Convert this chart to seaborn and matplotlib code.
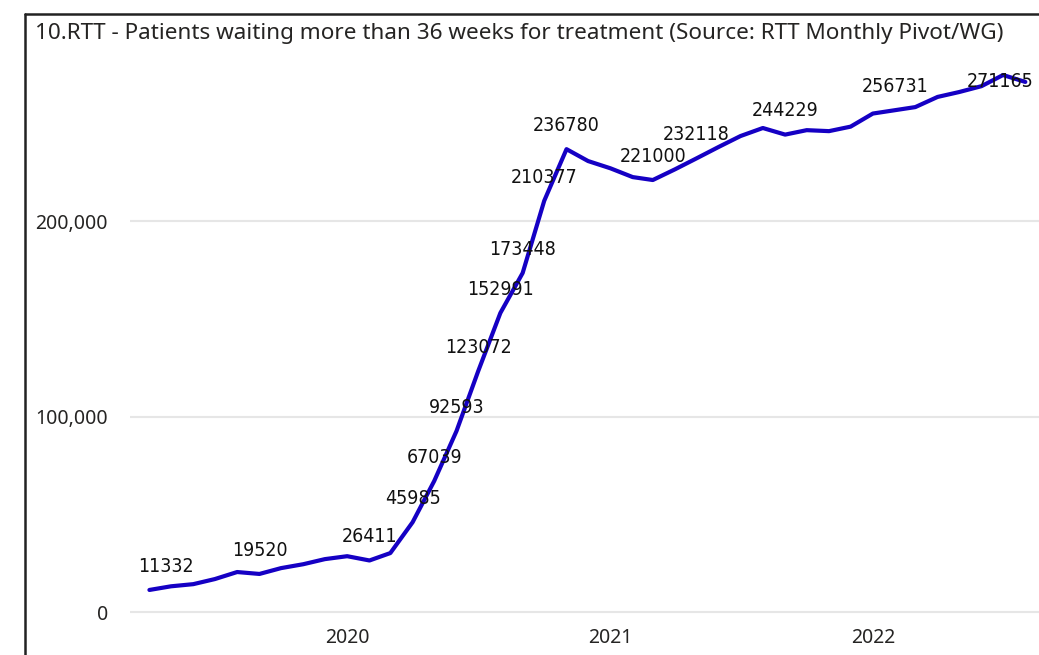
import pandas as pd
import matplotlib.pyplot as plt
import seaborn as sns
from matplotlib.lines import Line2D

# Monthly values, Apr 2019 - Aug 2022
months = pd.date_range('2019-04-01', '2022-08-01', freq='MS')
patients = [11332, 13200, 14300, 16900, 20500, 19520, 22500, 24500, 27100,
            28600, 26411, 30200, 45985, 67039, 92593, 123072, 152991, 173448,
            210377, 236780, 230700, 227000, 222500, 221000, 226500, 232118,
            238000, 243500, 247600, 244229, 246500, 246000, 248300, 255000,
            256731, 258300, 263500, 266000, 269000, 274700, 271165]

# months that carry a data label
label_months = ['2019-04-01', '2019-09-01', '2020-02-01', '2020-04-01',
                '2020-05-01', '2020-06-01', '2020-07-01', '2020-08-01',
                '2020-09-01', '2020-10-01', '2020-11-01', '2021-03-01',
                '2021-05-01', '2021-09-01', '2022-02-01', '2022-08-01']

year_ticks = ['2020-01-01', '2021-01-01', '2022-01-01']
year_labels = ['2020', '2021', '2022']
y_ticks = [0, 100000, 200000]
y_labels = ['0', '100,000', '200,000']

title = '10.RTT - Patients waiting more than 36 weeks for treatment (Source: RTT Monthly Pivot/WG)'

df = pd.DataFrame({'month': months, 'patients': patients})

sns.set_style('white')
plt.rcParams['font.family'] = ['Noto Sans', 'DejaVu Sans']

W, H = 1039, 655
fig = plt.figure(figsize=(W / 100, H / 100), dpi=100)
ax = fig.add_axes([130 / W, 1 - 617 / H, (W - 130) / W, (617 - 50) / H])

sns.lineplot(data=df, x='month', y='patients', ax=ax, color='#1500C4',
             linewidth=3, solid_joinstyle='round', solid_capstyle='round')

# data labels (first and last are nudged inwards to stay inside the plot)
lab_font = dict(fontsize=14, family='DejaVu Sans', stretch='condensed',
                color='#111111', ha='center', va='center')
for d in label_months:
    d = pd.Timestamp(d)
    v = df.loc[df['month'] == d, 'patients'].iloc[0]
    if d == df['month'].iloc[-1]:
        off = (-18, 0)
    elif d == df['month'].iloc[0]:
        off = (12, 17)
    else:
        off = (0, 17)
    ax.annotate(str(v), (d, v), xytext=off, textcoords='offset points',
                **lab_font)

ax.set_xlim(pd.Timestamp('2019-03-05'), pd.Timestamp('2022-08-20'))
ax.set_ylim(-2500, 287500)
ax.set_xticks(pd.to_datetime(year_ticks))
ax.set_xticklabels(year_labels)
ax.set_yticks(y_ticks)
ax.set_yticklabels(y_labels)
ax.tick_params(axis='both', length=0, labelsize=14, labelcolor='#252423')
ax.tick_params(axis='y', pad=16)
ax.tick_params(axis='x', pad=8)
ax.set_xlabel('')
ax.set_ylabel('')
ax.yaxis.grid(True, color='#E6E6E6', linewidth=1.5)
ax.xaxis.grid(False)
for s in ax.spines.values():
    s.set_visible(False)

# frame of the visual
fig.add_artist(Line2D([25 / W, 25 / W], [1 - 14 / H, 0], color='#222222',
                      linewidth=1.8, transform=fig.transFigure))
fig.add_artist(Line2D([25 / W, 1], [1 - 14 / H, 1 - 14 / H], color='#222222',
                      linewidth=1.8, transform=fig.transFigure))

fig.text(35 / W, 1 - 34 / H, title, fontsize=16.2, color='#252423',
         ha='left', va='center')

fig.savefig('out.png', dpi=100)
